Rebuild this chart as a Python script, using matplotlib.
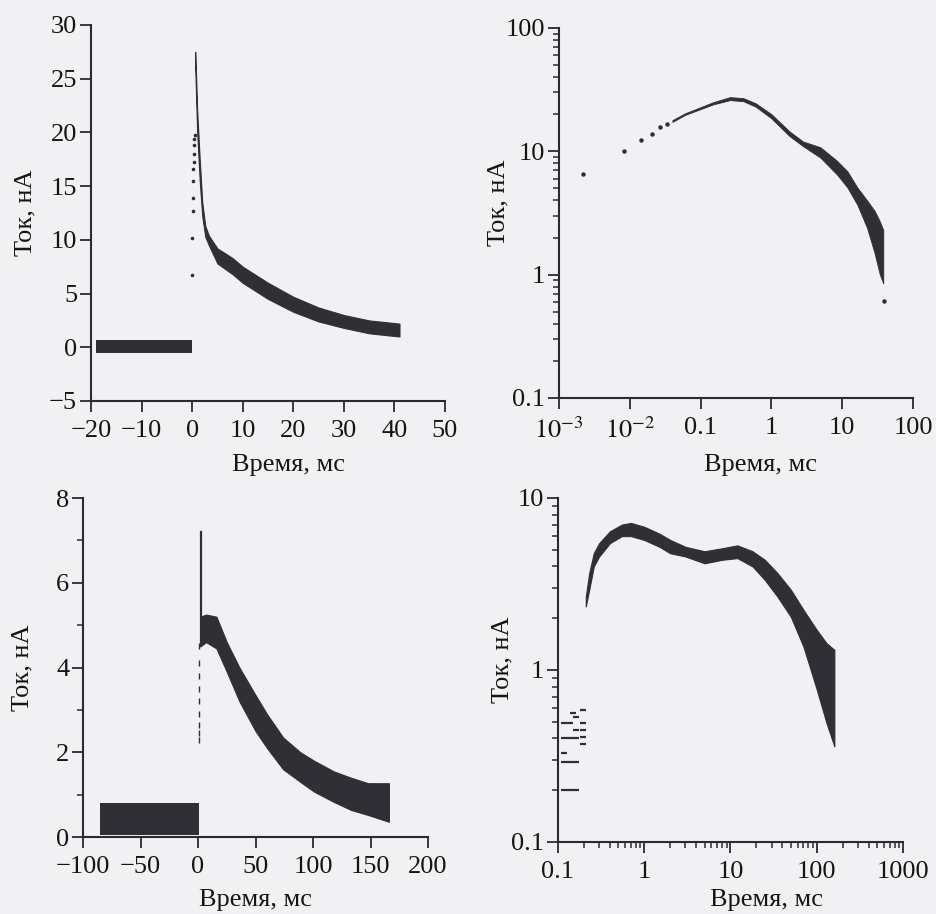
import matplotlib.pyplot as plt
from matplotlib.ticker import NullFormatter, LogLocator, MultipleLocator

plt.rcParams['font.family'] = ['Liberation Serif', 'DejaVu Serif']
plt.rcParams['mathtext.fontset'] = 'stix'

# --- panel (a): linear, current after the pulse ---
a_base_t = [-19, -10, 0]
a_base_lo = [-0.5, -0.5, -0.5]
a_base_hi = [0.7, 0.7, 0.7]
a_rise_t = [0.0, 0.05, 0.1, 0.15, 0.2, 0.25, 0.3, 0.35, 0.4, 0.45, 0.5]
a_rise_y = [6.7, 10.2, 12.7, 13.9, 15.5, 16.6, 17.2, 18.0, 18.8, 19.4, 19.8]
a_t = [0.6, 0.8, 1.0, 1.5, 2.0, 2.6, 3.3, 5, 8, 10, 15, 20, 25, 30, 35, 41]
a_hi = [27.5, 25.0, 22.0, 17.5, 13.5, 11.3, 10.4, 9.2, 8.3, 7.5, 6.0, 4.7, 3.7, 3.0, 2.5, 2.2]
a_lo = [26.5, 23.0, 20.0, 15.5, 12.2, 10.3, 9.5, 7.8, 6.8, 6.0, 4.5, 3.3, 2.4, 1.8, 1.3, 1.0]

# --- panel (b): same data, log-log ---
b_dots_t = [0.0022, 0.0082, 0.0146, 0.0209, 0.0266, 0.033]
b_dots_y = [6.6, 10.0, 12.4, 13.7, 15.7, 16.5]
b_t = [0.04, 0.06, 0.1, 0.15, 0.26, 0.4, 0.6, 1.0, 1.8, 2.8, 4.9, 8.4, 11.8, 16.3, 22.4, 28.6, 34, 38]
b_hi = [17.9, 20.3, 22.8, 25.0, 27.5, 27.0, 24.5, 20.0, 14.5, 12.0, 10.8, 8.4, 6.9, 5.1, 4.0, 3.3, 2.7, 2.3]
b_lo = [17.3, 19.7, 22.0, 24.0, 26.0, 25.5, 23.0, 18.5, 13.3, 11.0, 8.9, 6.5, 5.1, 3.7, 2.4, 1.5, 1.0, 0.85]
b_tail_t = [39.3]
b_tail_y = [0.61]

# --- panel (c): linear, second sample ---
c_base_t = [-85, 1]
c_base_lo = [0.05, 0.05]
c_base_hi = [0.8, 0.8]
c_spike_t = [2.3, 2.3]
c_spike_y = [4.5, 7.2]
c_rise_t = [0.8, 0.8, 0.8, 0.8, 0.8, 0.8, 0.8, 0.8, 0.8]
c_rise_y = [2.3, 2.45, 2.65, 2.9, 3.2, 3.5, 3.8, 4.1, 4.5]
c_t = [2, 7, 16, 25, 36, 50, 60, 74, 89, 101, 118, 133, 148, 166]
c_hi = [5.2, 5.25, 5.2, 4.6, 4.0, 3.35, 2.9, 2.35, 2.0, 1.8, 1.55, 1.4, 1.27, 1.27]
c_lo = [4.5, 4.6, 4.45, 3.9, 3.2, 2.5, 2.1, 1.6, 1.3, 1.07, 0.83, 0.64, 0.52, 0.36]

# --- panel (d): log-log, second sample ---
d_dash_t = [0.119, 0.136, 0.119, 0.136, 0.119, 0.119, 0.136, 0.119, 0.136, 0.163,
            0.163, 0.163, 0.163, 0.163, 0.195, 0.195, 0.195, 0.195, 0.195, 0.15]
d_dash_y = [0.49, 0.49, 0.40, 0.40, 0.33, 0.29, 0.29, 0.2, 0.2, 0.535,
            0.45, 0.40, 0.29, 0.2, 0.585, 0.49, 0.45, 0.41, 0.37, 0.56]
d_t = [0.21, 0.23, 0.26, 0.3, 0.4, 0.55, 0.7, 1.0, 1.5, 2, 3, 5, 8, 12, 18, 25, 35, 50, 70, 100, 130, 160]
d_hi = [2.67, 3.66, 4.78, 5.46, 6.4, 7.0, 7.16, 6.8, 6.2, 5.7, 5.2, 4.9, 5.1, 5.3, 4.9, 4.37, 3.66, 2.93, 2.24, 1.71, 1.43, 1.31]
d_lo = [2.34, 2.92, 4.0, 4.57, 5.46, 6.0, 6.0, 5.7, 5.2, 4.77, 4.57, 4.17, 4.37, 4.47, 4.0, 3.34, 2.67, 2.04, 1.37, 0.77, 0.49, 0.36]

ink = '#2f2f35'
axc = '#2a2a35'
paper = '#f1f1f3'
fs = 19

fig = plt.figure(figsize=(9.37, 9.14), dpi=100, facecolor=paper)


def style(ax):
    ax.set_facecolor('none')
    for s in ['top', 'right']:
        ax.spines[s].set_visible(False)
    for s in ['left', 'bottom']:
        ax.spines[s].set_color(axc)
        ax.spines[s].set_linewidth(1.5)
    ax.tick_params(which='major', direction='out', length=8, width=1.3,
                   color=axc, labelsize=fs, labelcolor='#151515')
    ax.tick_params(which='minor', direction='out', length=4, width=1.1, color=axc)
    ax.tick_params(axis='y', pad=2)
    ax.tick_params(axis='x', pad=6)


def labels(ax, xpos, ypos):
    ax.set_xlabel('Время, мс', fontsize=fs, color='#151515')
    ax.set_ylabel('Ток, нА', fontsize=fs, color='#151515')
    ax.xaxis.set_label_coords(*xpos)
    ax.yaxis.set_label_coords(*ypos)


# (a)
ax1 = fig.add_axes([0.0971, 0.5613, 0.3778, 0.4114])
style(ax1)
ax1.fill_between(a_base_t, a_base_lo, a_base_hi, color=ink, lw=0)
ax1.fill_between(a_t, a_lo, a_hi, color=ink, lw=0.8, edgecolor=ink)
ax1.plot(a_rise_t, a_rise_y, 'o', ms=1.6, color=ink)
ax1.set_xlim(-20, 50)
ax1.set_ylim(-5, 30)
ax1.xaxis.set_major_locator(MultipleLocator(10))
ax1.yaxis.set_major_locator(MultipleLocator(5))
labels(ax1, (0.557, -0.141), (-0.153, 0.5))

# (b)
ax2 = fig.add_axes([0.5966, 0.5646, 0.3778, 0.4048])
style(ax2)
ax2.set_xscale('log')
ax2.set_yscale('log')
ax2.fill_between(b_t, b_lo, b_hi, color=ink, lw=0.6, edgecolor=ink)
ax2.plot(b_dots_t, b_dots_y, 'o', ms=2.2, color=ink)
ax2.plot(b_tail_t, b_tail_y, 'o', ms=2.2, color=ink)
ax2.set_xlim(1e-3, 100)
ax2.set_ylim(0.1, 100)
ax2.set_xticks([1e-3, 1e-2, 0.1, 1, 10, 100],
               [r'$10^{-3}$', r'$10^{-2}$', '0.1', '1', '10', '100'])
ax2.set_yticks([0.1, 1, 10, 100], ['0.1', '1', '10', '100'])
ax2.xaxis.set_minor_locator(LogLocator(subs=range(2, 10)))
ax2.yaxis.set_minor_locator(LogLocator(subs=range(2, 10)))
ax2.xaxis.set_minor_formatter(NullFormatter())
ax2.yaxis.set_minor_formatter(NullFormatter())
labels(ax2, (0.568, -0.151), (-0.141, 0.527))

# (c)
ax3 = fig.add_axes([0.0886, 0.0842, 0.3682, 0.3709])
style(ax3)
ax3.fill_between(c_base_t, c_base_lo, c_base_hi, color=ink, lw=0)
ax3.fill_between(c_t, c_lo, c_hi, color=ink, lw=0.8, edgecolor=ink)
ax3.plot(c_spike_t, c_spike_y, color=ink, lw=1.6)
ax3.plot(c_rise_t, c_rise_y, '|', ms=5, color=ink)
ax3.set_xlim(-100, 200)
ax3.set_ylim(0, 8)
ax3.xaxis.set_major_locator(MultipleLocator(50))
ax3.yaxis.set_major_locator(MultipleLocator(2))
ax3.yaxis.set_minor_locator(MultipleLocator(1))
labels(ax3, (0.499, -0.153), (-0.145, 0.499))

# (d)
ax4 = fig.add_axes([0.5955, 0.0788, 0.3682, 0.3764])
style(ax4)
ax4.set_xscale('log')
ax4.set_yscale('log')
ax4.fill_between(d_t, d_lo, d_hi, color=ink, lw=0.8, edgecolor=ink)
ax4.plot(d_dash_t, d_dash_y, '_', ms=5, mew=1.6, color=ink)
ax4.set_xlim(0.1, 1000)
ax4.set_ylim(0.1, 10)
ax4.set_xticks([0.1, 1, 10, 100, 1000], ['0.1', '1', '10', '100', '1000'])
ax4.set_yticks([0.1, 1, 10], ['0.1', '1', '10'])
ax4.xaxis.set_minor_locator(LogLocator(subs=range(2, 10)))
ax4.yaxis.set_minor_locator(LogLocator(subs=range(2, 10)))
ax4.xaxis.set_minor_formatter(NullFormatter())
ax4.yaxis.set_minor_formatter(NullFormatter())
labels(ax4, (0.605, -0.137), (-0.13, 0.53))

fig.savefig('out.png', dpi=100, facecolor=paper)
